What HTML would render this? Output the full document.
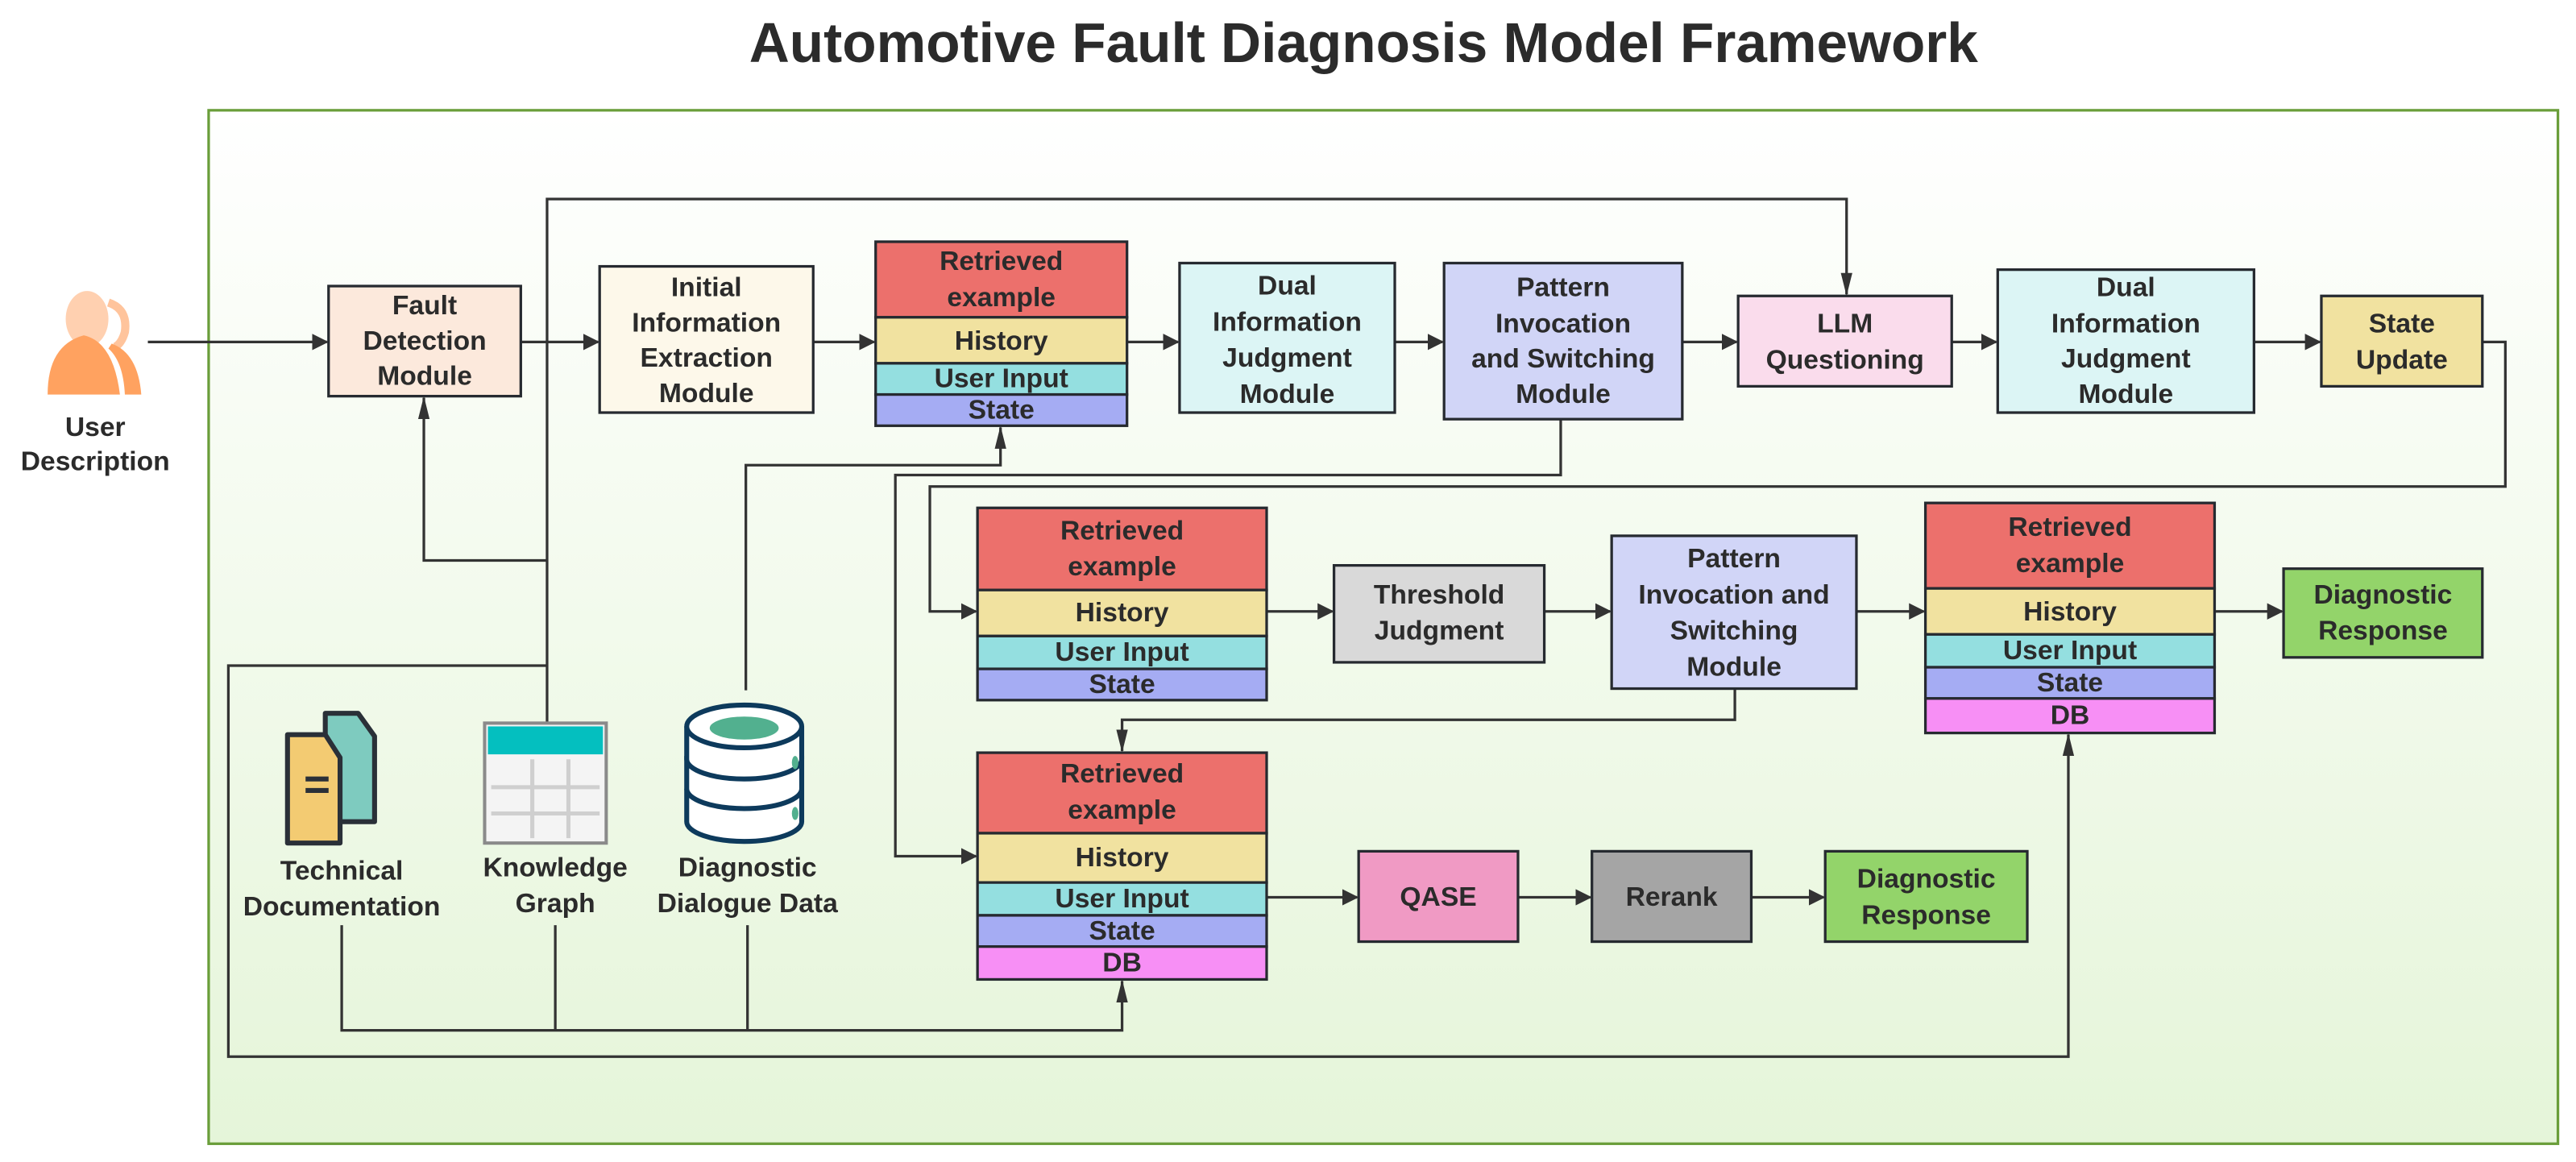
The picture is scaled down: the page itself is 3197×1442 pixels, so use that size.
<!DOCTYPE html>
<html><head><meta charset="utf-8"><style>
html,body{margin:0;padding:0;background:#fff}
svg{display:block}
text{font-family:"Liberation Sans",sans-serif;font-weight:bold;fill:#2b2b2b;stroke:none;text-anchor:middle;dominant-baseline:central}
</style></head><body>
<svg width="3197" height="1442" viewBox="0 0 1568 707" xmlns="http://www.w3.org/2000/svg">
<defs>
<linearGradient id="bg" x1="0" y1="0" x2="0" y2="1"><stop offset="0" stop-color="#ffffff"/><stop offset="1" stop-color="#e5f5d9"/></linearGradient>
<marker id="a" markerWidth="10" markerHeight="10" refX="9" refY="5" orient="auto" markerUnits="userSpaceOnUse"><path d="M0,0 L10,5 L0,10 z" fill="#333"/></marker>
<marker id="b" markerWidth="14" markerHeight="8" refX="13" refY="4" orient="auto" markerUnits="userSpaceOnUse"><path d="M0,0.5 L14,4 L0,7.5 z" fill="#333"/></marker>
</defs>
<text x="830" y="26" style="font-size:34px">Automotive Fault Diagnosis Model Framework</text>
<rect x="127" y="67" width="1430" height="629" fill="url(#bg)" stroke="#6a9e3a" stroke-width="1.6"/>

<!-- connectors -->
<g fill="none" stroke="#333" stroke-width="1.6">
<line x1="90" y1="208" x2="199" y2="208" marker-end="url(#a)"/>
<line x1="317" y1="208" x2="364" y2="208" marker-end="url(#a)"/>
<line x1="495" y1="208" x2="532" y2="208" marker-end="url(#a)"/>
<line x1="686" y1="208" x2="717" y2="208" marker-end="url(#a)"/>
<line x1="849" y1="208" x2="878" y2="208" marker-end="url(#a)"/>
<line x1="1024" y1="208" x2="1057" y2="208" marker-end="url(#a)"/>
<line x1="1188" y1="208" x2="1215" y2="208" marker-end="url(#a)"/>
<line x1="1372" y1="208" x2="1412" y2="208" marker-end="url(#a)"/>
<polyline points="333,440 333,121 1124,121 1124,179" marker-end="url(#b)"/>
<polyline points="333,341 258,341 258,242" marker-end="url(#b)"/>
<polyline points="333,405 139,405 139,643 1259,643 1259,447" marker-end="url(#b)"/>
<polyline points="454,420 454,283 609,283 609,260" marker-end="url(#b)"/>
<polyline points="950,255 950,289 545,289 545,521 594,521" marker-end="url(#a)"/>
<polyline points="1511,208 1525,208 1525,296 566,296 566,372 594,372" marker-end="url(#a)"/>
<line x1="771" y1="372" x2="811" y2="372" marker-end="url(#a)"/>
<line x1="940" y1="372" x2="980" y2="372" marker-end="url(#a)"/>
<line x1="1130" y1="372" x2="1171" y2="372" marker-end="url(#a)"/>
<line x1="1348" y1="372" x2="1389" y2="372" marker-end="url(#a)"/>
<polyline points="1056,419 1056,438 683,438 683,457" marker-end="url(#b)"/>
<line x1="771" y1="546" x2="826" y2="546" marker-end="url(#a)"/>
<line x1="924" y1="546" x2="968" y2="546" marker-end="url(#a)"/>
<line x1="1066" y1="546" x2="1110" y2="546" marker-end="url(#a)"/>
<polyline points="208,563 208,627 683,627 683,597" marker-end="url(#b)"/>
<line x1="338" y1="563" x2="338" y2="627"/>
<line x1="455" y1="563" x2="455" y2="627"/>
</g>

<g stroke="#262a30" stroke-width="1.6" style="font-size:16.5px">
<rect x="200" y="174" width="117" height="67" fill="#fce9dc"/>
<text x="258.5" y="186">Fault</text><text x="258.5" y="207.5">Detection</text><text x="258.5" y="229">Module</text>
<rect x="365" y="162" width="130" height="89" fill="#fdf8ea"/>
<text x="430" y="175">Initial</text><text x="430" y="196.5">Information</text><text x="430" y="218">Extraction</text><text x="430" y="239.5">Module</text>
<rect x="533" y="147" width="153" height="46" fill="#ec706c"/>
<rect x="533" y="193" width="153" height="28" fill="#f1e2a0"/>
<rect x="533" y="221" width="153" height="19" fill="#94dfe0"/>
<rect x="533" y="240" width="153" height="19" fill="#a5acf3"/>
<text x="609.5" y="159">Retrieved</text><text x="609.5" y="181">example</text>
<text x="609.5" y="207.5">History</text><text x="609.5" y="230.5">User Input</text><text x="609.5" y="249.5">State</text>
<rect x="718" y="160" width="131" height="91" fill="#dcf5f5"/>
<text x="783.5" y="174">Dual</text><text x="783.5" y="196">Information</text><text x="783.5" y="218">Judgment</text><text x="783.5" y="240">Module</text>
<rect x="879" y="160" width="145" height="95" fill="#d1d5f7"/>
<text x="951.5" y="175">Pattern</text><text x="951.5" y="197">Invocation</text><text x="951.5" y="218.5">and Switching</text><text x="951.5" y="240">Module</text>
<rect x="1058" y="180" width="130" height="55" fill="#fadcec"/>
<text x="1123" y="197">LLM</text><text x="1123" y="219">Questioning</text>
<rect x="1216" y="164" width="156" height="87" fill="#dcf5f5"/>
<text x="1294" y="175">Dual</text><text x="1294" y="197">Information</text><text x="1294" y="218.5">Judgment</text><text x="1294" y="240">Module</text>
<rect x="1413" y="180" width="98" height="55" fill="#f1e2a0"/>
<text x="1462" y="197">State</text><text x="1462" y="219">Update</text>

<rect x="595" y="309" width="176" height="50" fill="#ec706c"/>
<rect x="595" y="359" width="176" height="28" fill="#f1e2a0"/>
<rect x="595" y="387" width="176" height="20" fill="#94dfe0"/>
<rect x="595" y="407" width="176" height="19" fill="#a5acf3"/>
<text x="683" y="323">Retrieved</text><text x="683" y="345">example</text>
<text x="683" y="373">History</text><text x="683" y="397">User Input</text><text x="683" y="416.5">State</text>
<rect x="812" y="344" width="128" height="59" fill="#d9d9d9"/>
<text x="876" y="362">Threshold</text><text x="876" y="384">Judgment</text>
<rect x="981" y="326" width="149" height="93" fill="#d1d5f7"/>
<text x="1055.5" y="340">Pattern</text><text x="1055.5" y="362">Invocation and</text><text x="1055.5" y="384">Switching</text><text x="1055.5" y="406">Module</text>
<rect x="1172" y="306" width="176" height="52" fill="#ec706c"/>
<rect x="1172" y="358" width="176" height="28" fill="#f1e2a0"/>
<rect x="1172" y="386" width="176" height="20" fill="#94dfe0"/>
<rect x="1172" y="406" width="176" height="19" fill="#a5acf3"/>
<rect x="1172" y="425" width="176" height="21" fill="#f78ff5"/>
<text x="1260" y="321">Retrieved</text><text x="1260" y="343">example</text>
<text x="1260" y="372.5">History</text><text x="1260" y="396">User Input</text><text x="1260" y="415.5">State</text><text x="1260" y="435.5">DB</text>
<rect x="1390" y="346" width="121" height="54" fill="#93d46a"/>
<text x="1450.5" y="362">Diagnostic</text><text x="1450.5" y="384">Response</text>

<rect x="595" y="458" width="176" height="49" fill="#ec706c"/>
<rect x="595" y="507" width="176" height="30" fill="#f1e2a0"/>
<rect x="595" y="537" width="176" height="20" fill="#94dfe0"/>
<rect x="595" y="557" width="176" height="19" fill="#a5acf3"/>
<rect x="595" y="576" width="176" height="20" fill="#f78ff5"/>
<text x="683" y="471">Retrieved</text><text x="683" y="493">example</text>
<text x="683" y="522">History</text><text x="683" y="547">User Input</text><text x="683" y="566.5">State</text><text x="683" y="586">DB</text>
<rect x="827" y="518" width="97" height="55" fill="#f09ac4"/>
<text x="875.5" y="546">QASE</text>
<rect x="969" y="518" width="97" height="55" fill="#a5a5a5"/>
<text x="1017.5" y="546">Rerank</text>
<rect x="1111" y="518" width="123" height="55" fill="#93d46a"/>
<text x="1172.5" y="535">Diagnostic</text><text x="1172.5" y="557">Response</text>
</g>

<!-- user icon -->
<g>
<path d="M66,184 q12,4 10,18 q-2,7 -6,9" stroke="#ffc49c" stroke-width="5" fill="none"/>
<ellipse cx="53" cy="194" rx="13" ry="17" fill="#ffd0b0"/>
<path d="M29,240 q0,-30 22,-36 q18,4 22,36 z" fill="#ffa260"/>
<path d="M68,209 q16,6 18,31 h-10 q-1,-20 -10,-28 z" fill="#ffa260"/>
</g>
<g style="font-size:16.5px"><text x="58" y="260">User</text><text x="58" y="281">Description</text></g>

<!-- tech doc icon -->
<g stroke="#2a3038" stroke-width="3" stroke-linejoin="round">
<path d="M198,434 h20 l10,14 v52 h-30 z" fill="#7ecbbf"/>
<path d="M175,447 h23 l9,14 v52 h-32 z" fill="#f3cb72"/>
<line x1="186" y1="474" x2="200" y2="474"/><line x1="186" y1="481" x2="200" y2="481"/>
</g>
<!-- knowledge graph icon -->
<g>
<rect x="295" y="440" width="74" height="73" fill="#f4f4f4" stroke="#8a8a8a" stroke-width="2"/>
<rect x="297" y="442" width="70" height="17" fill="#04bfbf"/>
<g stroke="#cfcfcf" stroke-width="2.5"><line x1="324" y1="462" x2="324" y2="510"/><line x1="346" y1="462" x2="346" y2="510"/><line x1="299" y1="479" x2="365" y2="479"/><line x1="299" y1="495" x2="365" y2="495"/></g>
</g>
<!-- DB icon -->
<g stroke="#0d3a5c" stroke-width="3" fill="#fff">
<path d="M418,480 v20 a35,12 0 0 0 70,0 v-20"/>
<path d="M418,460 v20 a35,12 0 0 0 70,0 v-20"/>
<path d="M418,442 v20 a35,12 0 0 0 70,0 v-20"/>
<ellipse cx="453" cy="442" rx="35" ry="13"/>
</g>
<ellipse cx="453" cy="443" rx="21" ry="7" fill="#52b08f"/>
<ellipse cx="484" cy="464" rx="2" ry="4" fill="#52b08f"/>
<ellipse cx="484" cy="495" rx="2" ry="4" fill="#52b08f"/>

<g style="font-size:16.5px">
<text x="208" y="530">Technical</text><text x="208" y="552">Documentation</text>
<text x="338" y="528">Knowledge</text><text x="338" y="550">Graph</text>
<text x="455" y="528">Diagnostic</text><text x="455" y="550">Dialogue Data</text>
</g>
</svg>
</body></html>
